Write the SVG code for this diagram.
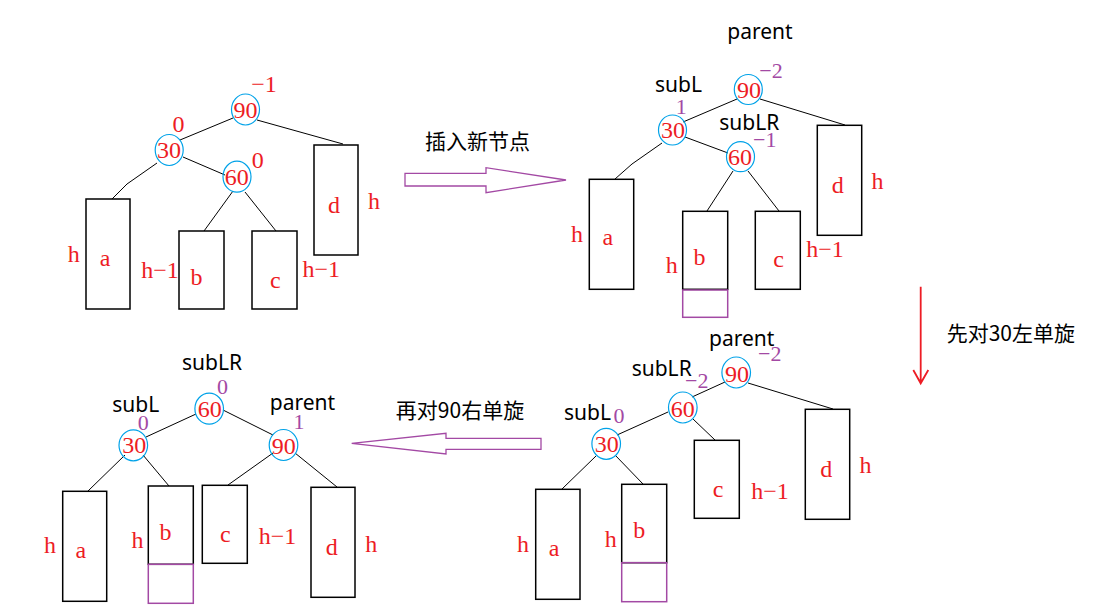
<svg xmlns="http://www.w3.org/2000/svg" width="1096" height="607" viewBox="0 0 1096 607">
<style>
.bg{fill:#ffffff}
.ln{stroke:#000;stroke-width:1;fill:none}
.nd{fill:none;stroke:#00A2E8;stroke-width:1.2}
.bx{fill:none;stroke:#000;stroke-width:1.5}
.pb{fill:none;stroke:#A349A4;stroke-width:1.5}
.r{font-family:"Liberation Serif",serif;font-size:24px;fill:#ED1C24;text-anchor:middle}
.p{font-family:"Liberation Serif",serif;font-size:22px;fill:#A349A4;text-anchor:middle}
.k{font-family:"Noto Sans","Noto Sans CJK SC",sans-serif;font-size:21px;fill:#000;text-anchor:middle}
.cn{font-family:"Noto Sans CJK SC",sans-serif;font-size:21px;fill:#000;text-anchor:middle}
.ar{fill:#fff;stroke:#A349A4;stroke-width:1.3}
</style>
<rect class="bg" x="0" y="0" width="1096" height="607"/>

<!-- Panel 1 -->
<g id="p1-connectors">
<path class="ln" d="M233,118 L180,140"/>
<path class="ln" d="M257,120 L343,144"/>
<path class="ln" d="M157,163 L127,184 L112,199"/>
<path class="ln" d="M183,157 L225,175"/>
<path class="ln" d="M233,191 L204,231"/>
<path class="ln" d="M245,192 L276,231"/>
</g>
<g id="p1-n90"><ellipse class="nd" cx="245.5" cy="109.5" rx="14" ry="15.5"/><text class="r" x="245.5" y="118">90</text><text class="r" x="264" y="92">−1</text></g>
<g id="p1-n30"><ellipse class="nd" cx="169.2" cy="150" rx="14" ry="15.5"/><text class="r" x="169" y="157.5">30</text><text class="r" x="178.5" y="132">0</text></g>
<g id="p1-n60"><ellipse class="nd" cx="237" cy="176.7" rx="14" ry="15.5"/><text class="r" x="236.7" y="185">60</text><text class="r" x="257.7" y="168">0</text></g>
<g id="p1-a"><rect class="bx" x="86" y="199" width="44" height="110"/><text class="r" x="105" y="265.5">a</text><text class="r" x="73.7" y="261.5">h</text></g>
<g id="p1-b"><rect class="bx" x="179" y="231" width="45" height="78"/><text class="r" x="196.5" y="285">b</text><text class="r" x="160" y="278">h−1</text></g>
<g id="p1-c"><rect class="bx" x="252" y="231" width="45" height="78"/><text class="r" x="275.3" y="287.5">c</text><text class="r" x="321.3" y="276.5">h−1</text></g>
<g id="p1-d"><rect class="bx" x="314" y="145" width="44" height="110"/><text class="r" x="334" y="213">d</text><text class="r" x="374" y="209">h</text></g>

<!-- Arrow 1 -->
<g id="arrow-insert">
<polygon class="ar" points="405,173.3 486,173.3 486,167.7 566,180 486,192.7 486,186 405,186"/>
<text class="cn" x="477.5" y="149">插入新节点</text>
</g>

<!-- Panel 2 -->
<g id="p2-connectors">
<path class="ln" d="M737,99 L683,122"/>
<path class="ln" d="M760,99 L845,125"/>
<path class="ln" d="M662,143 L632,164 L615,179"/>
<path class="ln" d="M685,137 L728,153"/>
<path class="ln" d="M733,171 L707,211"/>
<path class="ln" d="M748,171 L779,211"/>
</g>
<g id="p2-labels"><text class="k" x="760" y="38.5">parent</text><text class="k" x="678.5" y="91.5">subL</text><text class="k" x="749.3" y="130">subLR</text></g>
<g id="p2-n90"><ellipse class="nd" cx="748.3" cy="89.5" rx="14" ry="15"/><text class="r" x="749" y="98">90</text><text class="p" x="771" y="78">−2</text></g>
<g id="p2-n30"><ellipse class="nd" cx="672.5" cy="130" rx="14" ry="15"/><text class="r" x="673" y="138">30</text><text class="p" x="681.3" y="114">1</text></g>
<g id="p2-n60"><ellipse class="nd" cx="740.5" cy="156.7" rx="14" ry="15"/><text class="r" x="740" y="165">60</text><text class="p" x="764.7" y="146.5">−1</text></g>
<g id="p2-a"><rect class="bx" x="589.3" y="179.3" width="44.4" height="110"/><text class="r" x="607.8" y="245">a</text><text class="r" x="577" y="241.5">h</text></g>
<g id="p2-b"><rect class="bx" x="682.7" y="211.3" width="45" height="78"/><rect class="pb" x="682.7" y="290" width="45" height="27.3"/><text class="r" x="699.5" y="265">b</text><text class="r" x="671.7" y="272.5">h</text></g>
<g id="p2-c"><rect class="bx" x="755.3" y="211.3" width="45" height="78"/><text class="r" x="778.7" y="266.5">c</text><text class="r" x="825" y="257">h−1</text></g>
<g id="p2-d"><rect class="bx" x="817.3" y="125.3" width="44.4" height="110"/><text class="r" x="837.8" y="192.5">d</text><text class="r" x="877.5" y="189">h</text></g>

<!-- Arrow 2 -->
<g id="arrow-left-rotate">
<path d="M920.7,286.7 L920.7,383.3 M913.3,370 L920.7,383.3 L928.3,370" fill="none" stroke="#ED1C24" stroke-width="1.8"/>
<text class="cn" x="1010.8" y="341">先对30左单旋</text>
</g>

<!-- Panel 4 (after left rotation) -->
<g id="p4-connectors">
<path class="ln" d="M725,382 L692,397"/>
<path class="ln" d="M748,383 L833,409"/>
<path class="ln" d="M668,412 L617,435"/>
<path class="ln" d="M693,419 L715,440"/>
<path class="ln" d="M596,456 L562,489"/>
<path class="ln" d="M615,455 L643,484"/>
</g>
<g id="p4-labels"><text class="k" x="741.7" y="345.5">parent</text><text class="k" x="661.7" y="376">subLR</text><text class="k" x="587.5" y="420">subL</text></g>
<g id="p4-n90"><ellipse class="nd" cx="736.2" cy="372.5" rx="14.3" ry="15.5"/><text class="r" x="737" y="381.5">90</text><text class="p" x="769.7" y="360.5">−2</text></g>
<g id="p4-n60"><ellipse class="nd" cx="682.8" cy="407.5" rx="14.3" ry="15.5"/><text class="r" x="682.8" y="416.5">60</text><text class="p" x="696.7" y="388">−2</text></g>
<g id="p4-n30"><ellipse class="nd" cx="606.2" cy="443.8" rx="14.3" ry="15.5"/><text class="r" x="606.7" y="451.5">30</text><text class="p" x="619" y="422.5">0</text></g>
<g id="p4-a"><rect class="bx" x="535.7" y="489.3" width="44.3" height="110"/><text class="r" x="554.2" y="556">a</text><text class="r" x="523" y="551.5">h</text></g>
<g id="p4-b"><rect class="bx" x="621.7" y="484.3" width="45" height="78.4"/><rect class="pb" x="621.7" y="562.7" width="45" height="39"/><text class="r" x="639.2" y="538">b</text><text class="r" x="610.8" y="546.5">h</text></g>
<g id="p4-c"><rect class="bx" x="694.3" y="440.3" width="45" height="78"/><text class="r" x="718" y="496.5">c</text><text class="r" x="770" y="499">h−1</text></g>
<g id="p4-d"><rect class="bx" x="805.3" y="409.3" width="44.4" height="110"/><text class="r" x="826.2" y="476.5">d</text><text class="r" x="865.5" y="473">h</text></g>

<!-- Arrow 3 -->
<g id="arrow-right-rotate">
<polygon class="ar" points="541,438.3 446,438.3 446,433.3 351.7,443.3 446,454 446,449.3 541,449.3"/>
<text class="cn" x="460" y="418">再对90右单旋</text>
</g>

<!-- Panel 3 (final) -->
<g id="p3-connectors">
<path class="ln" d="M196,414 L146,437"/>
<path class="ln" d="M223,410 L273,435"/>
<path class="ln" d="M125,455 L88,491"/>
<path class="ln" d="M143,455 L169,486"/>
<path class="ln" d="M273,453 L228,485"/>
<path class="ln" d="M295,453 L337,487"/>
</g>
<g id="p3-labels"><text class="k" x="212" y="369.5">subLR</text><text class="k" x="135.8" y="411.5">subL</text><text class="k" x="302.5" y="409.5">parent</text></g>
<g id="p3-n60"><ellipse class="nd" cx="209.2" cy="408.7" rx="14.3" ry="15.5"/><text class="r" x="209.7" y="417">60</text><text class="p" x="222.5" y="394">0</text></g>
<g id="p3-n30"><ellipse class="nd" cx="133.3" cy="445.3" rx="14.3" ry="15.5"/><text class="r" x="134.2" y="453">30</text><text class="p" x="143.3" y="430">0</text></g>
<g id="p3-n90"><ellipse class="nd" cx="283.5" cy="445" rx="14.3" ry="15.5"/><text class="r" x="283.8" y="453.5">90</text><text class="p" x="299" y="429">1</text></g>
<g id="p3-a"><rect class="bx" x="62.7" y="491.3" width="44" height="110"/><text class="r" x="80.8" y="558">a</text><text class="r" x="50" y="552.5">h</text></g>
<g id="p3-b"><rect class="bx" x="148.3" y="486" width="45" height="78.3"/><rect class="pb" x="148.3" y="564.3" width="45" height="39"/><text class="r" x="165.5" y="540">b</text><text class="r" x="137.5" y="548">h</text></g>
<g id="p3-c"><rect class="bx" x="202.3" y="485.3" width="45" height="78"/><text class="r" x="225.3" y="541.5">c</text><text class="r" x="277.5" y="544">h−1</text></g>
<g id="p3-d"><rect class="bx" x="311" y="487.3" width="44" height="110"/><text class="r" x="331.8" y="555">d</text><text class="r" x="371.2" y="551.5">h</text></g>
</svg>
